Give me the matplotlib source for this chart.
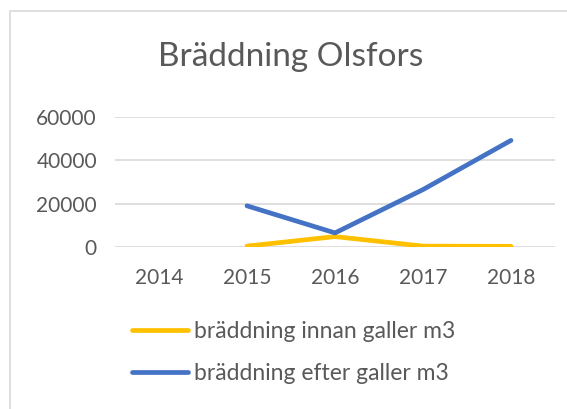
import matplotlib.pyplot as plt
from matplotlib.patches import Rectangle
import numpy as np

years = ["2014", "2015", "2016", "2017", "2018"]
innan = [np.nan, 400, 4800, 400, 300]
efter = [np.nan, 19000, 6500, 26500, 49200]

text_color = "#595959"
plt.rcParams['font.family'] = ['Lato', 'DejaVu Sans']

fig = plt.figure(figsize=(5.67, 4.09), dpi=100)
# ram runt diagrammet
fig.patches.append(Rectangle((10 / 567, -0.05), 1.2, 1 - 11 / 409 + 0.05,
                             transform=fig.transFigure, fill=False,
                             edgecolor="#D9D9D9", linewidth=1.2))

ax = fig.add_axes([115 / 567, 1 - 247 / 409, 440 / 567, 130 / 409])
x = np.arange(len(years))
l1, = ax.plot(x, innan, color="#FFC000", linewidth=3.4, solid_capstyle="round",
              solid_joinstyle="round", label="bräddning innan galler m3")
l2, = ax.plot(x, efter, color="#4472C4", linewidth=3.4, solid_capstyle="round",
              solid_joinstyle="round", label="bräddning efter galler m3")

ax.set_xlim(-0.5, len(years) - 0.5)
ax.set_ylim(0, 60000)
ax.set_yticks([0, 20000, 40000, 60000])
ax.set_xticks(x)
ax.set_xticklabels(years)
ax.grid(axis="y", color="#D9D9D9", linewidth=1.2)
ax.set_axisbelow(True)
for s in ax.spines.values():
    s.set_visible(False)
ax.tick_params(length=0, labelsize=15, colors=text_color)
ax.tick_params(axis="y", pad=13)
ax.tick_params(axis="x", pad=15)

fig.text(291 / 567, 1 - 57 / 409, "Bräddning Olsfors",
         ha="center", va="center", fontsize=24, color=text_color)

fig.legend(handles=[l1, l2], loc="upper left", bbox_to_anchor=(132 / 567, 1 - 321 / 409),
           borderpad=0, borderaxespad=0,
           frameon=False, fontsize=16.5, labelcolor=text_color, handlelength=2.45,
           handletextpad=0.25, labelspacing=0.9)

fig.savefig("out.png", dpi=100)
